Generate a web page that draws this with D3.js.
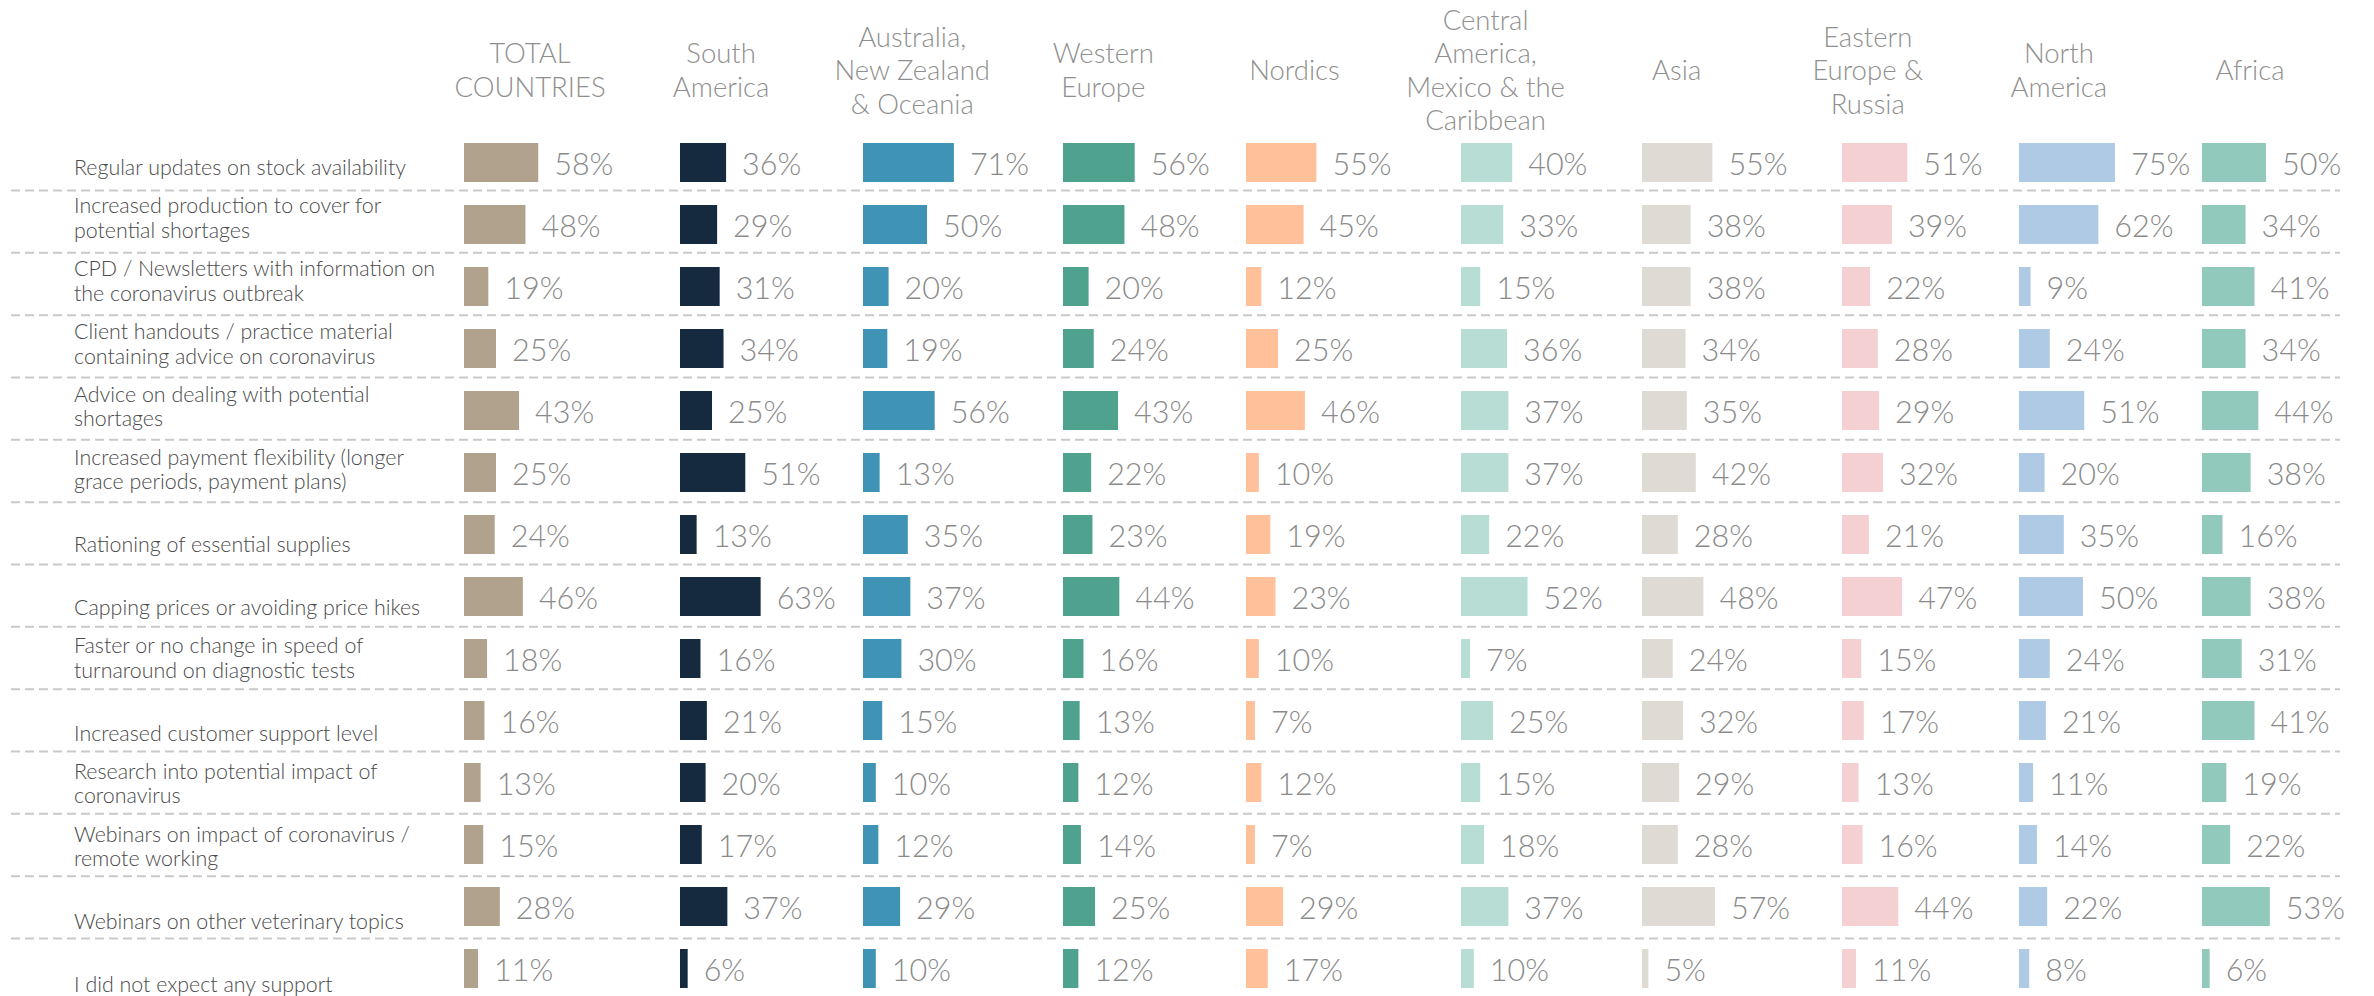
<!DOCTYPE html>
<html>
<head>
<meta charset="utf-8">
<script src="https://cdn.jsdelivr.net/npm/d3@7"></script>
<style>
  html, body { margin: 0; padding: 0; background: #ffffff; }
  svg { display: block; }
  text { font-family: Lato, "Open Sans", sans-serif; }
  .light { font-family: "Lato Light", Lato, "Open Sans", sans-serif; font-weight: 300; }
</style>
</head>
<body>
<svg id="chart" width="2374" height="996"></svg>
<script>
// Regions (columns)
const regions = [
  "TOTAL COUNTRIES", "South America", "Australia, New Zealand & Oceania",
  "Western Europe", "Nordics", "Central America, Mexico & the Caribbean",
  "Asia", "Eastern Europe & Russia", "North America", "Africa"
];

// Column header lines
const headerLines = [
  ["TOTAL", "COUNTRIES"],
  ["South", "America"],
  ["Australia,", "New Zealand", "& Oceania"],
  ["Western", "Europe"],
  ["Nordics"],
  ["Central", "America,", "Mexico & the", "Caribbean"],
  ["Asia"],
  ["Eastern", "Europe &", "Russia"],
  ["North", "America"],
  ["Africa"]
];

// Support measures (rows), with their line breaks
const measures = [
  ["Regular updates on stock availability"],
  ["Increased production to cover for", "potential shortages"],
  ["CPD / Newsletters with information on", "the coronavirus outbreak"],
  ["Client handouts / practice material", "containing advice on coronavirus"],
  ["Advice on dealing with potential", "shortages"],
  ["Increased payment flexibility (longer", "grace periods, payment plans)"],
  ["Rationing of essential supplies"],
  ["Capping prices or avoiding price hikes"],
  ["Faster or no change in speed of", "turnaround on diagnostic tests"],
  ["Increased customer support level"],
  ["Research into potential impact of", "coronavirus"],
  ["Webinars on impact of coronavirus /", "remote working"],
  ["Webinars on other veterinary topics"],
  ["I did not expect any support"]
];

// Share of respondents (%) per measure, one array per region
const totalCountries   = [58, 48, 19, 25, 43, 25, 24, 46, 18, 16, 13, 15, 28, 11];
const southAmerica     = [36, 29, 31, 34, 25, 51, 13, 63, 16, 21, 20, 17, 37, 6];
const australiaNZ      = [71, 50, 20, 19, 56, 13, 35, 37, 30, 15, 10, 12, 29, 10];
const westernEurope    = [56, 48, 20, 24, 43, 22, 23, 44, 16, 13, 12, 14, 25, 12];
const nordics          = [55, 45, 12, 25, 46, 10, 19, 23, 10, 7, 12, 7, 29, 17];
const centralAmerica   = [40, 33, 15, 36, 37, 37, 22, 52, 7, 25, 15, 18, 37, 10];
const asia             = [55, 38, 38, 34, 35, 42, 28, 48, 24, 32, 29, 28, 57, 5];
const easternEurope    = [51, 39, 22, 28, 29, 32, 21, 47, 15, 17, 13, 16, 44, 11];
const northAmerica     = [75, 62, 9, 24, 51, 20, 35, 50, 24, 21, 11, 14, 22, 8];
const africa           = [50, 34, 41, 34, 44, 38, 16, 38, 31, 41, 19, 22, 53, 6];

const series = [totalCountries, southAmerica, australiaNZ, westernEurope, nordics,
                centralAmerica, asia, easternEurope, northAmerica, africa];

const regionColors = ["#b1a28d", "#162a3f", "#3f93b4", "#4fa28e", "#ffc09a",
                      "#b7ddd5", "#e0dad4", "#f4d0d2", "#afcae5", "#91c9bc"];

// ---- layout ----
const svg = d3.select("#chart");

// left edge of each region's bars
const colX = d3.scaleOrdinal()
  .domain(regions)
  .range([464, 680, 863, 1063, 1246, 1461, 1642, 1842, 2019, 2202]);

// header centres are evenly spaced
const headerX = d3.scalePoint().domain(regions).range([530, 2250]);

const rowIds = measures.map((m, i) => i);
const y = d3.scaleBand()
  .domain(rowIds)
  .range([143, 988])
  .paddingInner(23 / 62)
  .paddingOuter(0);

const w = d3.scaleLinear().domain([0, 100]).range([0, 128]);

const sepY = d3.scaleLinear().domain([0, 12]).range([190.5, 938.5]);
const labelY = d3.scaleLinear().domain([0, 13]).range([175, 992]);

// Column headers
const hdr = svg.append("g").attr("class", "headers");
regions.forEach((r, ci) => {
  const lines = headerLines[ci];
  const t = hdr.append("text")
    .attr("class", "light")
    .attr("text-anchor", "middle")
    .attr("font-size", 27.5)
    .attr("fill", "#8f8f8f");
  lines.forEach((ln, k) => {
    t.append("tspan")
      .attr("x", headerX(r))
      .attr("y", 80 + (k - (lines.length - 1) / 2) * 33.5)
      .text(ln);
  });
});

// Dashed separators between rows
svg.append("g").selectAll("line")
  .data(d3.range(measures.length - 1))
  .join("line")
  .attr("x1", 11).attr("x2", 2340)
  .attr("y1", d => sepY(d)).attr("y2", d => sepY(d))
  .attr("stroke", "#c9c9c9")
  .attr("stroke-width", 2)
  .attr("stroke-dasharray", "9,5");

// Row labels (last line sits on a common baseline)
const lab = svg.append("g").attr("class", "row-labels");
measures.forEach((lines, i) => {
  const t = lab.append("text")
    .attr("class", "light")
    .attr("font-size", 21.4)
    .attr("fill", "#4a4a4a");
  lines.forEach((ln, k) => {
    t.append("tspan")
      .attr("x", 74)
      .attr("y", labelY(i) - (lines.length - 1 - k) * 24.5)
      .text(ln);
  });
});

// Bars and value labels per region
regions.forEach((r, ci) => {
  const g = svg.append("g").attr("class", "region");
  const vals = series[ci];
  g.selectAll("rect")
    .data(vals)
    .join("rect")
    .attr("x", colX(r))
    .attr("y", (d, i) => y(i))
    .attr("width", d => w(d))
    .attr("height", y.bandwidth())
    .attr("fill", regionColors[ci]);
  g.selectAll("text")
    .data(vals)
    .join("text")
    .attr("class", "light")
    .attr("x", d => colX(r) + w(d) + 16)
    .attr("y", (d, i) => y(i) + 31.5)
    .attr("font-size", 30.5)
    .attr("fill", "#8a8a8a")
    .text(d => d + "%");
});
</script>
</body>
</html>
